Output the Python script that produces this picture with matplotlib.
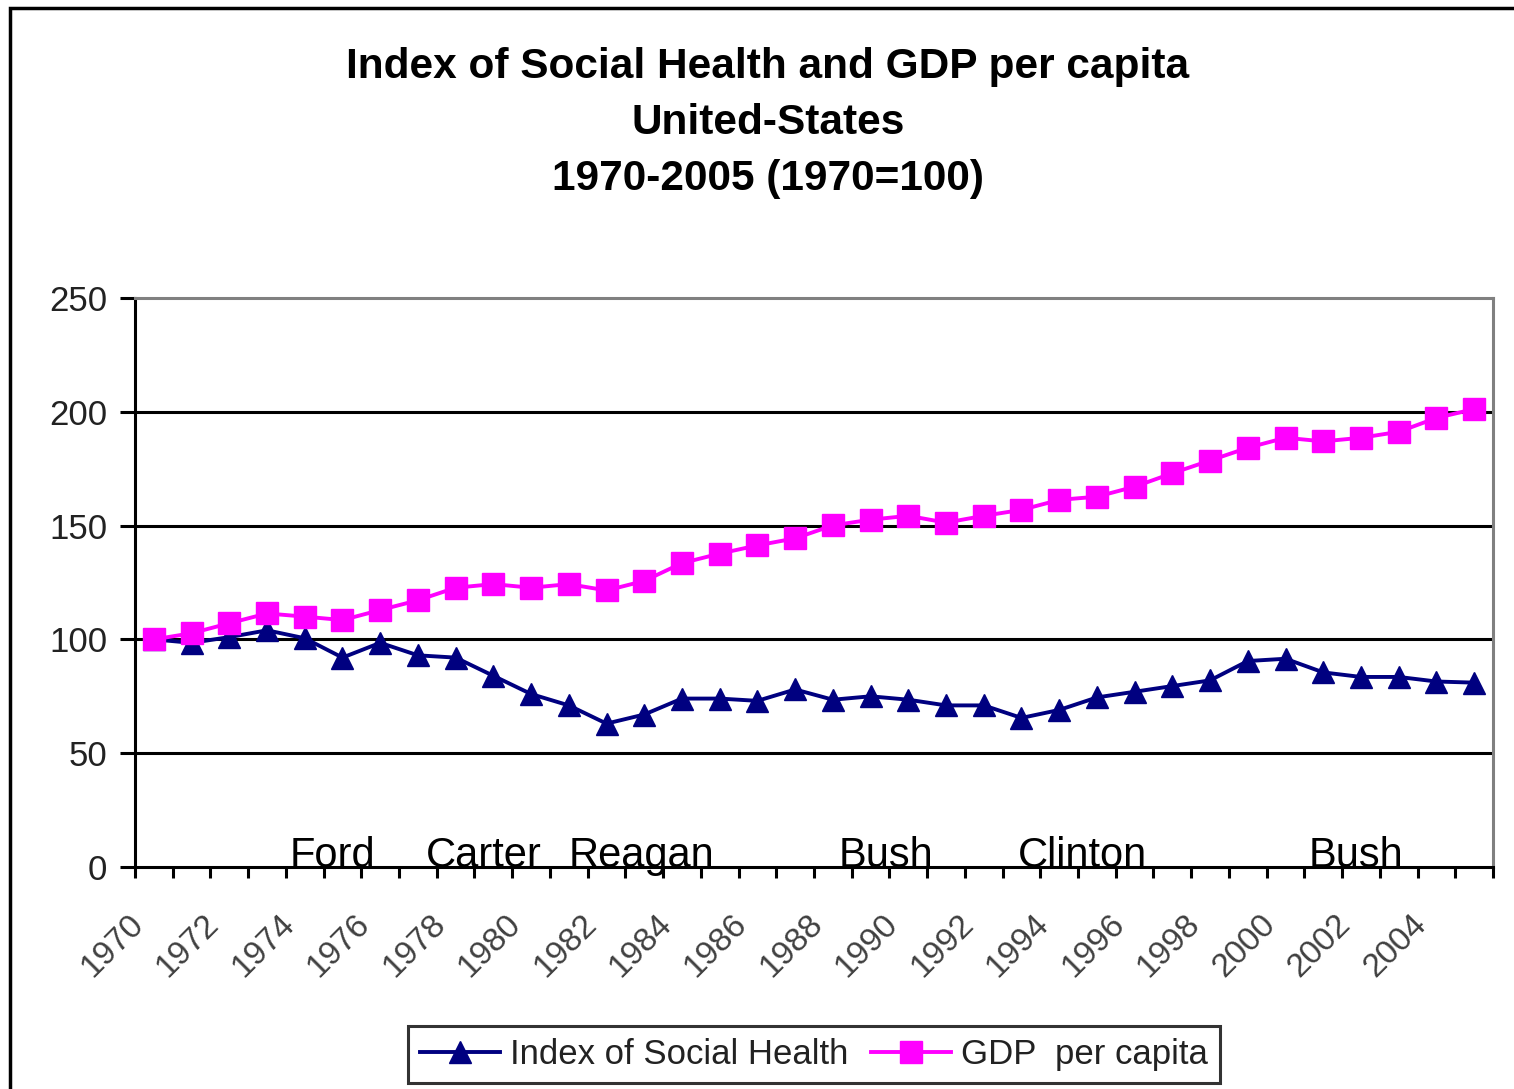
import matplotlib
matplotlib.use("Agg")
import matplotlib.pyplot as plt
from matplotlib.patches import Rectangle
from matplotlib.transforms import ScaledTranslation

plt.rcParams['font.family'] = ['Liberation Sans', 'DejaVu Sans']

years = list(range(1970, 2006))
social_health = [100, 98.5, 101, 104, 100.5, 92, 98.5, 93, 92, 84, 76, 71, 63, 67,
                 74, 74, 73, 78, 73.5, 75, 73.5, 71, 71, 65.5, 69, 74.5, 77, 79.5,
                 82, 90.5, 91.5, 85.5, 83.5, 83.5, 81.5, 81]
gdp_per_capita = [100, 102.7, 107.1, 111.4, 110, 108.5, 112.9, 117.2, 122.7, 124.3,
                  122.7, 124.3, 121.5, 125.7, 133.5, 137.7, 141.3, 144.4, 150.1,
                  152.6, 154.3, 151.3, 154.3, 156.9, 161.3, 162.7, 167.1, 173,
                  178.6, 184.2, 188.6, 187, 188.6, 191.2, 197.3, 201.2]
tick_years = list(range(1970, 2005, 2))
y_ticks = [0, 50, 100, 150, 200, 250]
presidents = ["Ford", "Carter", "Reagan", "Bush", "Clinton", "Bush"]
president_start = [1973.6, 1977.2, 1981.0, 1988.15, 1992.9, 2000.6]

W, H = 1514, 1089
fig = plt.figure(figsize=(W / 100, H / 100), dpi=100)
fig.patch.set_facecolor('white')

# outer chart frame (left and top edges visible)
fig.add_artist(Rectangle((10 / W, -0.1), 1.2, 1.1 - 8 / H, transform=fig.transFigure,
                         fill=False, edgecolor='black', linewidth=2.5, clip_on=False))

ax = fig.add_axes([135 / W, 1 - 867 / H, 1358 / W, (867 - 298) / H])
x = [y - years[0] for y in years]

ax.set_xlim(-0.5, len(years) - 0.5)
ax.set_ylim(0, 250)

for v in y_ticks[1:-1]:
    ax.axhline(v, color='black', linewidth=2.2, zorder=1)

ax.plot(x, social_health, color='#000080', linewidth=2.8, marker='^', markersize=16,
        markerfacecolor='#000080', markeredgecolor='#000080', zorder=3,
        label='Index of Social Health')
ax.plot(x, gdp_per_capita, color='#FF00FF', linewidth=2.8, marker='s', markersize=16.5,
        markerfacecolor='#FF00FF', markeredgecolor='#FF00FF', zorder=4,
        label='GDP  per capita')

for sp in ['left', 'bottom']:
    ax.spines[sp].set_color('black')
    ax.spines[sp].set_linewidth(2.2)
for sp in ['top', 'right']:
    ax.spines[sp].set_color('#808080')
    ax.spines[sp].set_linewidth(2.2)

ax.set_yticks(y_ticks)
ax.set_yticklabels([str(v) for v in y_ticks])
ax.tick_params(axis='y', direction='out', length=11, width=2.2, pad=9,
               labelsize=25, labelcolor='#222222')

# x: major ticks at category boundaries, labels at category centres (minor)
ax.set_xticks([i - 0.5 for i in range(len(years) + 1)])
ax.set_xticklabels([])
ax.tick_params(axis='x', which='major', direction='out', length=8, width=2.2)
ax.set_xticks([t - years[0] for t in tick_years], minor=True)
ax.set_xticklabels([str(t) for t in tick_years], minor=True)
ax.tick_params(axis='x', which='minor', length=0, pad=38, labelsize=24,
               labelcolor='#404040')
off = ScaledTranslation(-15 / 100, 0, fig.dpi_scale_trans)
for lab in ax.get_xticklabels(minor=True):
    lab.set_rotation(45)
    lab.set_rotation_mode('anchor')
    lab.set_ha('right')
    lab.set_va('center')
    lab.set_transform(lab.get_transform() + off)

for name, start in zip(presidents, president_start):
    ax.text(start - years[0], 0, name, fontsize=30, ha='left', va='baseline',
            color='black', zorder=5, clip_on=False)

fig.text(768 / W, 1 - 123 / H,
         "Index of Social Health and GDP per capita\nUnited-States\n1970-2005 (1970=100)",
         ha='center', va='center', fontsize=30.5, fontweight='bold', linespacing=1.52)

leg = fig.legend(loc='center', bbox_to_anchor=(814 / W, 1 - 1054.5 / H), ncol=2,
                 fontsize=25, frameon=True, fancybox=False, handlelength=2.3,
                 handletextpad=0.3, columnspacing=0.65, borderpad=0.35,
                 borderaxespad=0)
leg.get_frame().set_edgecolor('black')
leg.get_frame().set_linewidth(2.2)
for t in leg.get_texts():
    t.set_color('#222222')

fig.savefig('out.png', dpi=100, facecolor='white')
